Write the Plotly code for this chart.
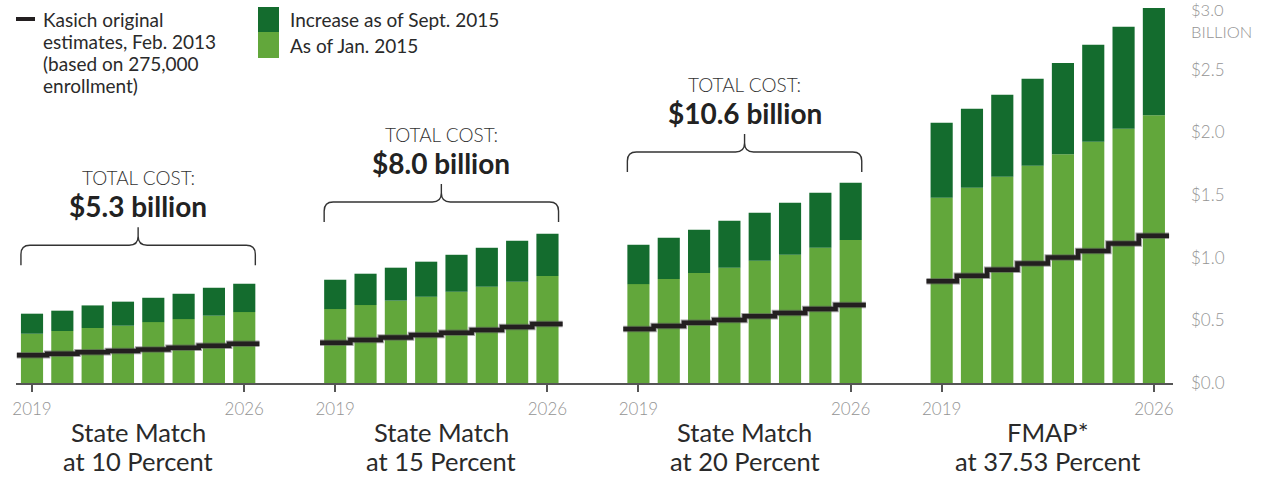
import plotly.graph_objects as go

# ---------------- data ----------------
years = [2019, 2020, 2021, 2022, 2023, 2024, 2025, 2026]
tick_years = ["2019", "2026"]

scenario_line1 = ["State Match", "State Match", "State Match", "FMAP*"]
scenario_line2 = ["at 10 Percent", "at 15 Percent", "at 20 Percent", "at 37.53 Percent"]
total_cost_labels = ["$5.3 billion", "$8.0 billion", "$10.6 billion"]

# As of Jan. 2015 (billions)
jan_10 = [0.393, 0.415, 0.439, 0.457, 0.486, 0.510, 0.537, 0.566]
jan_15 = [0.590, 0.622, 0.657, 0.688, 0.728, 0.768, 0.808, 0.853]
jan_20 = [0.789, 0.829, 0.877, 0.920, 0.976, 1.023, 1.079, 1.140]
jan_fmap = [1.478, 1.558, 1.645, 1.733, 1.826, 1.925, 2.028, 2.137]

# Increase as of Sept. 2015 (billions)
inc_10 = [0.160, 0.162, 0.180, 0.192, 0.194, 0.202, 0.223, 0.226]
inc_15 = [0.234, 0.250, 0.263, 0.280, 0.295, 0.311, 0.327, 0.338]
inc_20 = [0.314, 0.330, 0.346, 0.375, 0.382, 0.415, 0.439, 0.458]
inc_fmap = [0.598, 0.630, 0.654, 0.694, 0.728, 0.773, 0.814, 0.856]

# Kasich original estimates, Feb. 2013 (billions)
kasich_10 = [0.221, 0.234, 0.245, 0.255, 0.268, 0.282, 0.298, 0.314]
kasich_15 = [0.322, 0.343, 0.364, 0.383, 0.401, 0.423, 0.447, 0.470]
kasich_20 = [0.431, 0.455, 0.481, 0.502, 0.532, 0.558, 0.590, 0.622]
kasich_fmap = [0.811, 0.856, 0.904, 0.954, 1.002, 1.053, 1.114, 1.175]

y_tick_vals = [0, 0.5, 1.0, 1.5, 2.0, 2.5]
y_tick_text = ["$0.0", "$0.5", "$1.0", "$1.5", "$2.0", "$2.5"]
y_top_label = "$3.0"
y_unit_label = "BILLION"

jan_groups = [jan_10, jan_15, jan_20, jan_fmap]
inc_groups = [inc_10, inc_15, inc_20, inc_fmap]
kasich_groups = [kasich_10, kasich_15, kasich_20, kasich_fmap]

# ---------------- styling / layout constants ----------------
W, H = 1266, 477
ML, MR, MT, MB = 16, 93, 7, 94
GROUP_STEP = 10          # slots between group starts
BAR_W = 0.73
X_RANGE = [-0.528, 37.63]
Y_RANGE = [0, 3.0]
DARK = "#146c2e"
LIGHT = "#62a73b"
LINE_BLACK = "#231f20"
TXT = "#2a2a2a"
GRAY = "#949494"
FONT = "Lato, 'Open Sans', sans-serif"
BRACKET_BASE = [0.94, 1.284, 1.683]   # bracket bottom (value units)

plot_w = W - ML - MR
plot_h = H - MT - MB
px_x = (X_RANGE[1] - X_RANGE[0]) / plot_w   # x units per pixel
px_y = (Y_RANGE[1] - Y_RANGE[0]) / plot_h   # y units per pixel


def pos(g, i):
    return g * GROUP_STEP + i


def X(px):
    return X_RANGE[0] + (px - ML) * px_x


def Y(py):
    return Y_RANGE[0] + (H - MB - py) * px_y


def PX(px):   # paper x
    return (px - ML) / plot_w


def PY(py):   # paper y
    return (H - MB - py) / plot_h


fig = go.Figure()

for g in range(4):
    xs = [pos(g, i) for i in range(len(years))]
    fig.add_trace(go.Bar(x=xs, y=jan_groups[g], width=BAR_W, marker=dict(color=LIGHT, line=dict(width=0)),
                         showlegend=False, hoverinfo="y"))
    fig.add_trace(go.Bar(x=xs, y=inc_groups[g], width=BAR_W, base=jan_groups[g],
                         marker=dict(color=DARK, line=dict(width=0)), showlegend=False, hoverinfo="y"))

# Kasich step lines
for g in range(4):
    xs = [pos(g, i) - 0.5 for i in range(len(years))] + [pos(g, len(years) - 1) + 0.5]
    ys = kasich_groups[g] + [kasich_groups[g][-1]]
    fig.add_trace(go.Scatter(x=xs, y=ys, mode="lines", line=dict(shape="hv", color="rgba(90,90,90,0.55)", width=6.5),
                             showlegend=False, hoverinfo="skip"))
    fig.add_trace(go.Scatter(x=xs, y=ys, mode="lines", line=dict(shape="hv", color=LINE_BLACK, width=4.5),
                             showlegend=False, hoverinfo="skip"))

shapes = []
annotations = []

# brackets + total cost labels
rx = 9 * px_x
ry = 9 * px_y
for g, label in enumerate(total_cost_labels):
    x0 = pos(g, 0) - BAR_W / 2
    x1 = pos(g, len(years) - 1) + BAR_W / 2
    xc = (x0 + x1) / 2
    yb = BRACKET_BASE[g]
    ya = yb + 20 * px_y
    yp = yb + 38 * px_y
    path = (f"M {x0},{yb} L {x0},{ya - ry} Q {x0},{ya} {x0 + rx},{ya} L {xc - rx},{ya} "
            f"Q {xc},{ya} {xc},{ya + ry} L {xc},{yp} M {xc},{ya + ry} Q {xc},{ya} {xc + rx},{ya} "
            f"L {x1 - rx},{ya} Q {x1},{ya} {x1},{ya - ry} L {x1},{yb}")
    shapes.append(dict(type="path", path=path, xref="x", yref="y", line=dict(color="#333333", width=1.4)))
    annotations.append(dict(x=xc, y=yb, xref="x", yref="y", yshift=88, text="TOTAL COST:", showarrow=False,
                            xanchor="center", yanchor="middle",
                            font=dict(family=FONT, size=19, color="#333333", weight=300)))
    annotations.append(dict(x=xc, y=yb, xref="x", yref="y", yshift=59, text=f"<b>{label}</b>", showarrow=False,
                            xanchor="center", yanchor="middle", font=dict(family=FONT, size=28, color="#222222")))

# group titles
for g in range(4):
    xc = (pos(g, 0) + pos(g, len(years) - 1)) / 2
    annotations.append(dict(x=xc, y=0, xref="x", yref="y", yshift=-49, text=scenario_line1[g], showarrow=False,
                            xanchor="center", yanchor="middle", font=dict(family=FONT, size=25.5, color=TXT)))
    annotations.append(dict(x=xc, y=0, xref="x", yref="y", yshift=-78, text=scenario_line2[g], showarrow=False,
                            xanchor="center", yanchor="middle", font=dict(family=FONT, size=25.5, color=TXT)))

# "$3.0" and "BILLION" at top right
annotations.append(dict(x=PX(1190), y=PY(21), xref="paper", yref="paper", text=y_top_label, showarrow=False,
                        xanchor="left", yanchor="bottom", borderpad=0,
                        font=dict(family=FONT, size=16.5, color=GRAY, weight=300)))
annotations.append(dict(x=PX(1190), y=PY(21), xref="paper", yref="paper", text=y_unit_label, showarrow=False,
                        xanchor="left", yanchor="top", borderpad=0,
                        font=dict(family=FONT, size=16.5, color=GRAY, weight=300)))

# custom legend (pixel positions converted to data units)
shapes.append(dict(type="line", x0=X(9), x1=X(35), y0=Y(19), y1=Y(19), xref="x", yref="y",
                   line=dict(color=LINE_BLACK, width=4)))
kasich_text = ["Kasich original", "estimates, Feb. 2013", "(based on 275,000", "enrollment)"]
for k, t in enumerate(kasich_text):
    annotations.append(dict(x=X(41), y=Y(19 + 22 * k), xref="x", yref="y", text=t, showarrow=False,
                            xanchor="left", yanchor="middle", font=dict(family=FONT, size=19, color=TXT)))
shapes.append(dict(type="rect", x0=X(258), x1=X(279), y0=Y(32), y1=Y(6), xref="x", yref="y",
                   fillcolor=DARK, line=dict(width=0)))
shapes.append(dict(type="rect", x0=X(258), x1=X(279), y0=Y(58), y1=Y(32), xref="x", yref="y",
                   fillcolor=LIGHT, line=dict(width=0)))
annotations.append(dict(x=X(288), y=Y(19), xref="x", yref="y", text="Increase as of Sept. 2015", showarrow=False,
                        xanchor="left", yanchor="middle", font=dict(family=FONT, size=19, color=TXT)))
annotations.append(dict(x=X(288), y=Y(45), xref="x", yref="y", text="As of Jan. 2015", showarrow=False,
                        xanchor="left", yanchor="middle", font=dict(family=FONT, size=19, color=TXT)))

x_tick_vals = []
x_tick_text = []
for g in range(4):
    x_tick_vals += [pos(g, 0), pos(g, len(years) - 1)]
    x_tick_text += tick_years

fig.update_layout(
    width=W, height=H,
    margin=dict(l=ML, r=MR, t=MT, b=MB),
    barmode="overlay",
    paper_bgcolor="white", plot_bgcolor="white",
    shapes=shapes, annotations=annotations,
    showlegend=False,
    xaxis=dict(range=X_RANGE, tickvals=x_tick_vals, ticktext=x_tick_text, showgrid=False, zeroline=False,
               showline=True, linecolor="#555555", linewidth=1.5, ticks="outside", ticklen=7,
               tickcolor="#555555", tickwidth=1.5, ticklabelstandoff=3,
               tickfont=dict(family=FONT, size=17, color=GRAY, weight=300), fixedrange=True),
    yaxis=dict(range=Y_RANGE, side="right", tickvals=y_tick_vals, ticktext=y_tick_text, showgrid=False,
               zeroline=False, showline=False, ticks="", ticklabelstandoff=17,
               tickfont=dict(family=FONT, size=17, color=GRAY, weight=300), fixedrange=True),
)

fig.write_html("out.html", config={"displayModeBar": False})
